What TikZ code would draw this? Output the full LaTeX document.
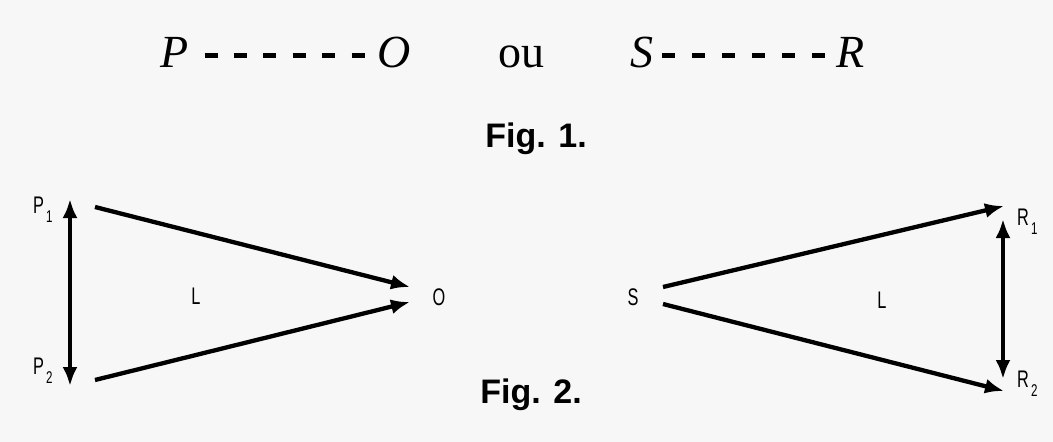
\documentclass[tikz,border=0pt]{standalone}
\usepackage{fontspec}
\usepackage{graphicx}
\setmainfont{Liberation Serif}
\newfontfamily\sansf{Liberation Sans}
\usetikzlibrary{arrows.meta,calc}
\newcommand{\condtext}[1]{\scalebox{0.68}[1]{#1}}
\newcommand{\sublbl}[2]{\condtext{#1\hspace{3pt}\raisebox{-9pt}{\fontsize{17}{17}\selectfont #2}}}
\tikzset{
  bigital/.style={inner sep=0pt, anchor=base west, font=\fontsize{46}{46}\selectfont\itshape},
  bigup/.style={inner sep=0pt, anchor=base west, font=\fontsize{46}{46}\selectfont},
  dashrow/.style={line width=5pt, dash pattern=on 13pt off 16.4pt},
  figcap/.style={inner sep=0pt, anchor=base, font=\sansf\bfseries\fontsize{34}{34}\selectfont},
  lab/.style={inner sep=0pt, font=\sansf\fontsize{24}{24}\selectfont},
  sublab/.style={inner sep=0pt, anchor=base west, font=\sansf\fontsize{24}{24}\selectfont},
  arr/.style={line width=4.3pt, -{Latex[length=19pt,width=15pt]}},
  darr/.style={line width=4.3pt, {Latex[length=19pt,width=15pt]}-{Latex[length=19pt,width=15pt]}},
}
\begin{document}
\begin{tikzpicture}[x=1pt,y=-1pt]
  \fill[black!3] (0,0) rectangle (1053,442);
  \useasboundingbox (0,0) rectangle (1053,442);

  % Fig. 1
  \node[bigital] (P) at (160,67) {P};
  \node[bigital] (O) at (377,67) {O};
  \node[bigup] (ou) at (498,67) {ou};
  \node[bigital] (S) at (630,67) {S};
  \node[bigital] (R) at (836,67) {R};
  \draw[dashrow] ([shift={(16,-12)}]P.base east) -- ([shift={(-12,-12)}]O.base west);
  \draw[dashrow, dash pattern=on 13pt off 17pt] ([shift={(9,-12)}]S.base east) -- ([shift={(-10,-12)}]R.base west);
  \node[figcap] (fig1) at (536,147) {Fig. 1.};

  % Fig. 2 labels
  \node[sublab] (P1) at (33,213) {\sublbl{P}{1}};
  \node[sublab] (P2) at (33,374) {\sublbl{P}{2}};
  \node[lab] (Ol) at (439,297) {\condtext{O}};
  \node[lab] (L1) at (196,296) {\condtext{L}};
  \node[lab] (Sl) at (633,297) {\condtext{S}};
  \node[lab] (L2) at (882,300) {\condtext{L}};
  \node[sublab] (R1) at (1017,225) {\sublbl{R}{1}};
  \node[sublab] (R2) at (1017,387) {\sublbl{R}{2}};
  \node[figcap] (fig2) at (531,403) {Fig. 2.};

  % arrow end points
  \coordinate (p1t) at (95,207);
  \coordinate (p2t) at (95,380);
  \coordinate (o1) at (410,287);
  \coordinate (o2) at (410,302);
  \coordinate (pv1) at (70,199);
  \coordinate (pv2) at (70,386);
  \coordinate (s1) at (663,287);
  \coordinate (s2) at (663,304);
  \coordinate (r1) at (1004,206);
  \coordinate (r2) at (1004,391);
  \coordinate (rv1) at (1003,219);
  \coordinate (rv2) at (1003,379);

  \draw[arr] (p1t) -- (o1);
  \draw[arr] (p2t) -- (o2);
  \draw[darr] (pv1) -- (pv2);
  \draw[arr] (s1) -- (r1);
  \draw[arr] (s2) -- (r2);
  \draw[darr] (rv1) -- (rv2);
\end{tikzpicture}
\end{document}
